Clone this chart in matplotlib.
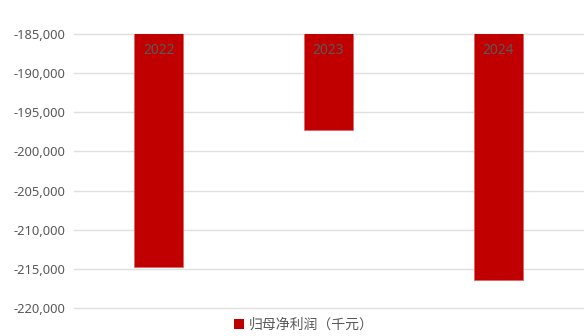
import matplotlib
matplotlib.use("Agg")
import matplotlib.pyplot as plt
from matplotlib.ticker import FuncFormatter
from matplotlib.patches import Patch
import matplotlib.transforms as mtransforms

plt.rcParams['font.family'] = ['Noto Sans', 'Noto Sans CJK SC', 'DejaVu Sans']

categories = ['2022', '2023', '2024']
values = [-214800, -197250, -216450]
series_name = '归母净利润（千元）'
y_ticks = [-185000, -190000, -195000, -200000, -205000, -210000, -215000, -220000]

W, H = 584, 336
fig = plt.figure(figsize=(W / 100, H / 100), dpi=100)
ax = fig.add_axes([74 / W, 1 - 308 / H, (583 - 74) / W, (308 - 34) / H])

x = list(range(len(categories)))
ax.bar(x, values, width=0.29, color='#C00000', edgecolor='#E06060', linewidth=0.5, zorder=3)
ax.set_ylim(-220000, -185000)
ax.set_xlim(-0.5, len(categories) - 0.5)
ax.set_yticks(y_ticks)
ax.yaxis.set_major_formatter(FuncFormatter(lambda v, p: f"{int(v):,}"))
ax.tick_params(axis='y', length=0, pad=6, labelsize=9.3, labelcolor='#595959')
ax.set_xticks([])
ax.grid(axis='y', color='#E0E0E0', linewidth=1, zorder=0)
for line in ax.get_ygridlines():
    line.set_clip_on(False)
for s in ax.spines.values():
    s.set_visible(False)

offset = mtransforms.offset_copy(ax.transData, fig=fig, x=0, y=-17 * 72 / 100, units='points')
for i, c in enumerate(categories):
    ax.text(i, -185000, c, ha='center', va='center', fontsize=10, color='#595959',
            transform=offset, zorder=4)

handles = [Patch(facecolor='#C00000', edgecolor='none')]
fig.legend(handles, [series_name], loc='center', bbox_to_anchor=(304 / W, 1 - 325 / H),
           frameon=False, handlelength=0.7, handleheight=0.7, handletextpad=0.4,
           prop={'family': ['Noto Sans CJK SC', 'DejaVu Sans'], 'size': 10},
           labelcolor='#595959')

fig.savefig('out.png', dpi=100)
